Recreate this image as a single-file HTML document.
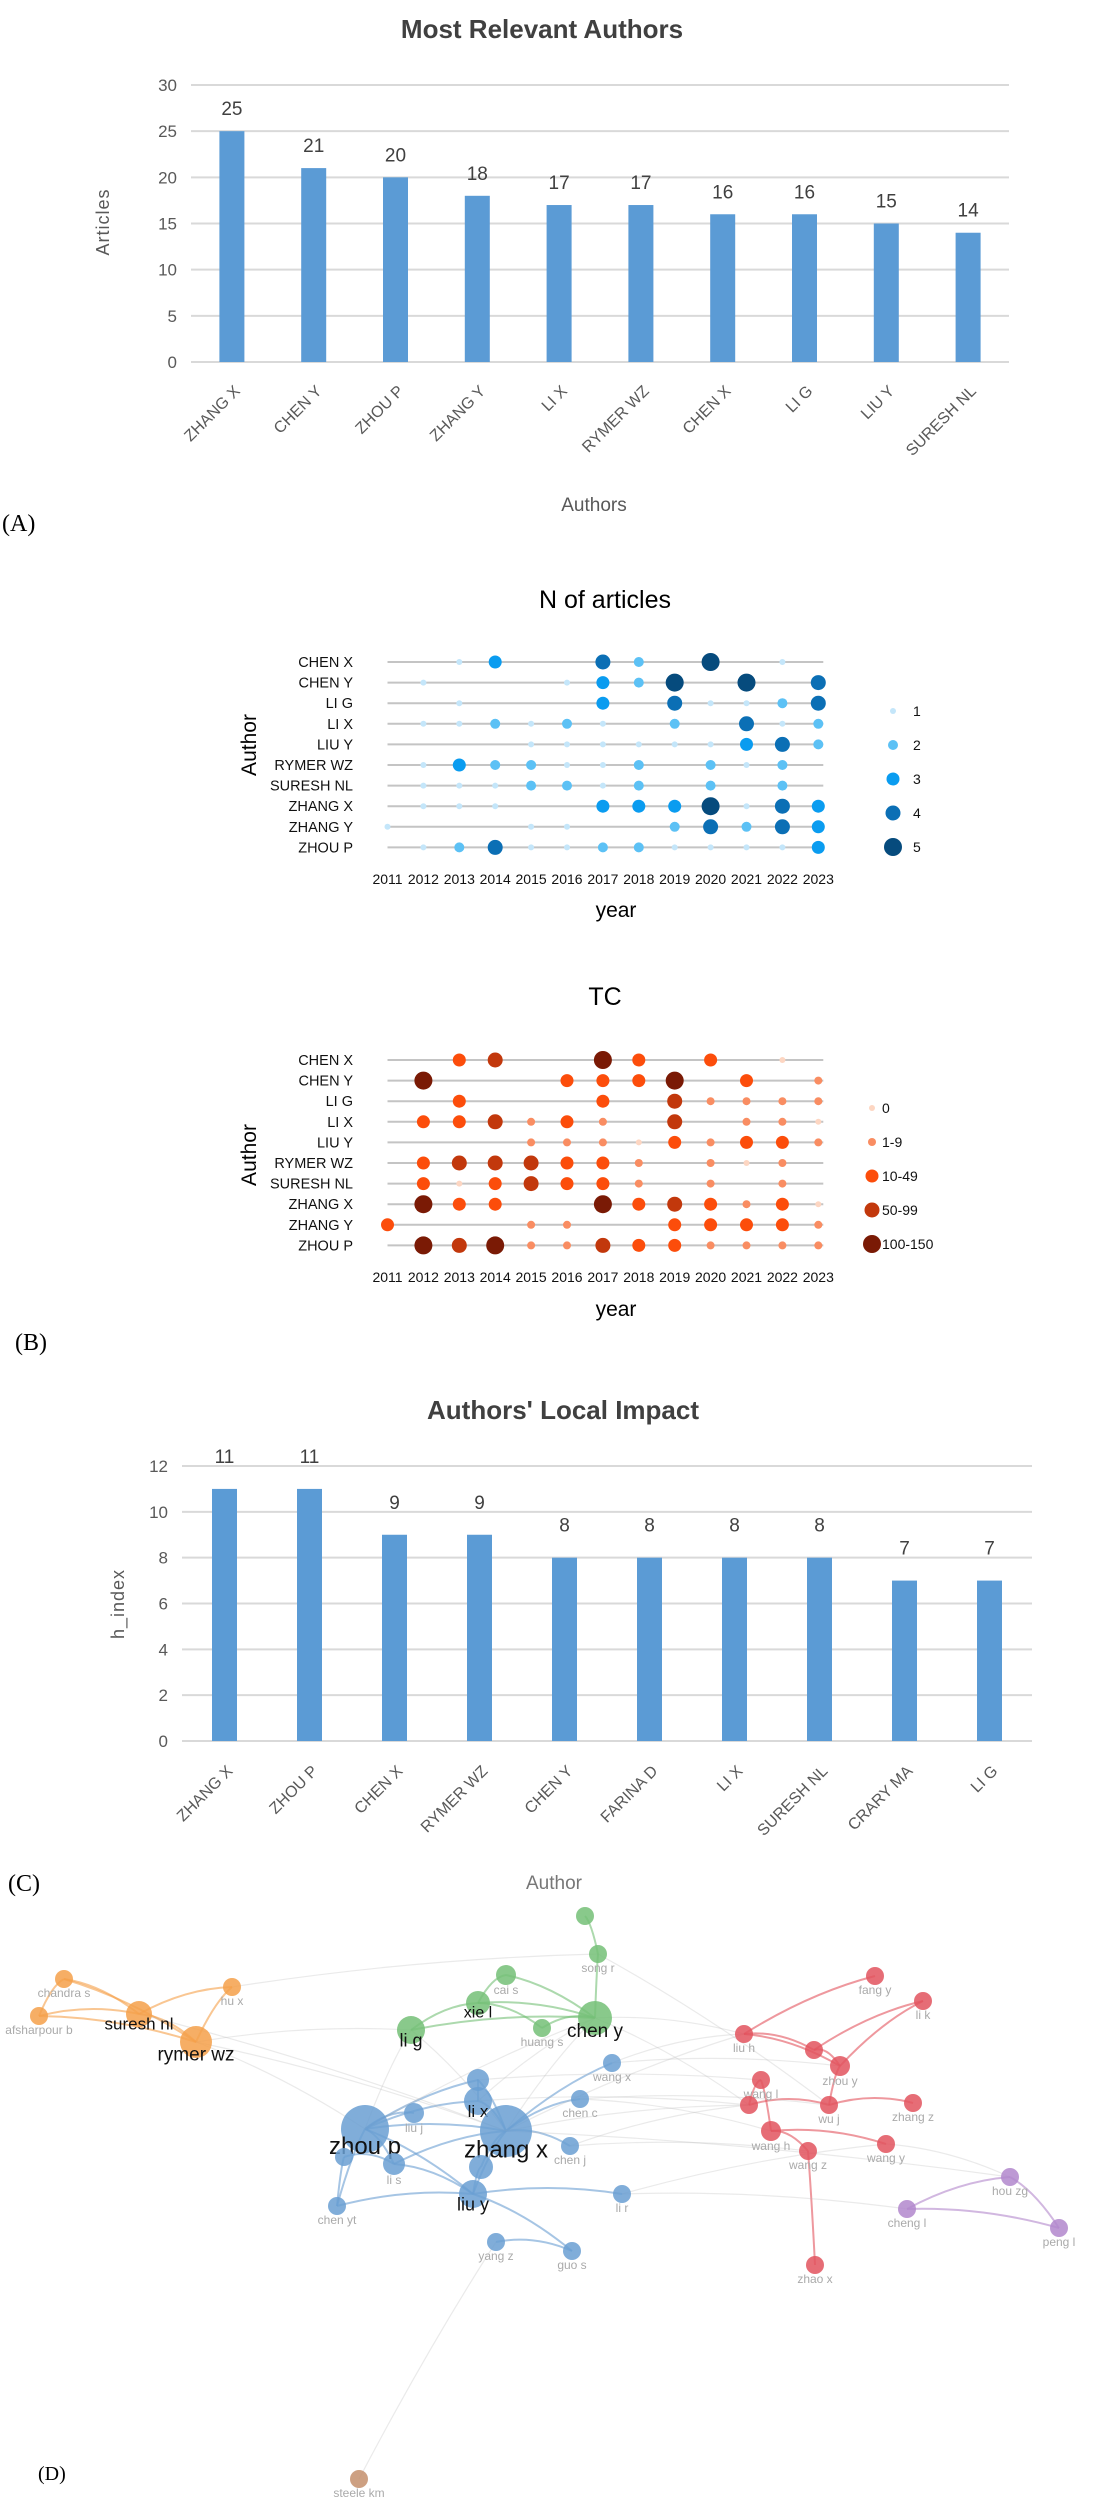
<!DOCTYPE html>
<html><head><meta charset="utf-8">
<style>
html,body{margin:0;padding:0;background:#fff;}
svg{display:block;}
.nar{font-family:"Liberation Sans Narrow","Liberation Sans",sans-serif;}
.sans{font-family:"Liberation Sans",sans-serif;}
.ser{font-family:"Liberation Serif",serif;}
</style></head>
<body>
<svg id="root" width="1118" height="2500" viewBox="0 0 1118 2500" xmlns="http://www.w3.org/2000/svg">
  <g id="chartA">
    <text class="nar" x="542" y="38" font-size="26" font-weight="bold" fill="#404040" text-anchor="middle">Most Relevant Authors</text>
    <text class="sans" transform="translate(109,222) rotate(-90)" font-size="18" fill="#595959" text-anchor="middle" letter-spacing="1">Articles</text>
    <text class="nar" x="594" y="511" font-size="19" fill="#595959" text-anchor="middle">Authors</text>
    <text class="ser" x="2" y="531" font-size="24" fill="#000">(A)</text>
  </g>
  <g id="chartB1">
    <text class="sans" x="605" y="608" font-size="25" fill="#000" text-anchor="middle">N of articles</text>
    <text class="sans" transform="translate(256,745) rotate(-90)" font-size="21" fill="#000" text-anchor="middle">Author</text>
    <text class="sans" x="616" y="917" font-size="21" fill="#000" text-anchor="middle">year</text>
  </g>
  <g id="chartB2">
    <text class="sans" x="605" y="1005" font-size="25" fill="#000" text-anchor="middle">TC</text>
    <text class="sans" transform="translate(256,1155) rotate(-90)" font-size="21" fill="#000" text-anchor="middle">Author</text>
    <text class="sans" x="616" y="1316" font-size="21" fill="#000" text-anchor="middle">year</text>
    <text class="ser" x="15" y="1350" font-size="24" fill="#000">(B)</text>
  </g>
  <g id="chartC">
    <text class="nar" x="563" y="1419" font-size="26" font-weight="bold" fill="#404040" text-anchor="middle">Authors' Local Impact</text>
    <text class="sans" transform="translate(124,1604) rotate(-90)" font-size="18" fill="#595959" text-anchor="middle" letter-spacing="1">h_index</text>
    <text class="ser" x="8" y="1891" font-size="24" fill="#000">(C)</text>
  </g>
  <g id="chartD">
    <text class="nar" x="554" y="1889" font-size="19" fill="#777" text-anchor="middle">Author</text>
    <g id="edges"></g>
    <g id="nodes"></g>
    <text class="ser" x="38" y="2480" font-size="20" fill="#000">(D)</text>
  </g>
</svg>
<script>
const authorsA = ["ZHANG X","CHEN Y","ZHOU P","ZHANG Y","LI X","RYMER WZ","CHEN X","LI G","LIU Y","SURESH NL"];
const articlesA = [25,21,20,18,17,17,16,16,15,14];
const ticksA = [0,5,10,15,20,25,30];
const authorsC = ["ZHANG X","ZHOU P","CHEN X","RYMER WZ","CHEN Y","FARINA D","LI X","SURESH NL","CRARY MA","LI G"];
const hIndexC = [11,11,9,9,8,8,8,8,7,7];
const ticksC = [0,2,4,6,8,10,12];
const authorsB = ["CHEN X","CHEN Y","LI G","LI X","LIU Y","RYMER WZ","SURESH NL","ZHANG X","ZHANG Y","ZHOU P"];
const yearsB = ["2011","2012","2013","2014","2015","2016","2017","2018","2019","2020","2021","2022","2023"];
const nArticles = [
 [-1,-1,1,3,-1,-1,4,2,-1,5,-1,1,-1],
 [-1,1,-1,-1,-1,1,3,2,5,-1,5,-1,4],
 [-1,-1,1,-1,-1,-1,3,-1,4,1,1,2,4],
 [-1,1,1,2,1,2,1,-1,2,-1,4,1,2],
 [-1,-1,-1,-1,1,1,1,1,1,1,3,4,2],
 [-1,1,3,2,2,1,1,2,-1,2,1,2,-1],
 [-1,1,1,1,2,2,1,2,-1,2,-1,2,-1],
 [-1,1,1,1,-1,-1,3,3,3,5,1,4,3],
 [1,-1,-1,-1,1,1,-1,-1,2,4,2,4,3],
 [-1,1,2,4,1,1,2,2,1,1,1,1,3]
];
const nLegend = ["1","2","3","4","5"];
const tcClass = [
 [-1,-1,2,3,-1,-1,4,2,-1,2,-1,0,-1],
 [-1,4,-1,-1,-1,2,2,2,4,-1,2,-1,1],
 [-1,-1,2,-1,-1,-1,2,-1,3,1,1,1,1],
 [-1,2,2,3,1,2,1,-1,3,-1,1,1,0],
 [-1,-1,-1,-1,1,1,1,0,2,1,2,2,1],
 [-1,2,3,3,3,2,2,1,-1,1,0,1,-1],
 [-1,2,0,2,3,2,2,1,-1,1,-1,1,-1],
 [-1,4,2,2,-1,-1,4,2,3,2,1,2,0],
 [2,-1,-1,-1,1,1,-1,-1,2,2,2,2,1],
 [-1,4,3,4,1,1,3,2,2,1,1,1,1]
];
const tcLegend = ["0","1-9","10-49","50-99","100-150"];

const NS="http://www.w3.org/2000/svg";
function mk(tag, attrs, parent){const e=document.createElementNS(NS,tag);for(const k in attrs)e.setAttribute(k,attrs[k]);parent.appendChild(e);return e;}

function barChart(g, cats, vals, ticks, o){
  const y = v => o.y0 - (v - ticks[0])/(ticks[ticks.length-1]-ticks[0])*(o.y0-o.yTop);
  const band = (o.xR-o.xL)/cats.length;
  const x = i => o.xL + band*(i+0.5);
  ticks.forEach(t=>{
    const l=mk("line",{x1:o.xL,x2:o.xR,y1:y(t),y2:y(t),stroke:"#d9d9d9","stroke-width":2},g);
    
    
    const tx=mk("text",{x:o.xL-14,y:y(t)+6,"text-anchor":"end","font-size":17,fill:"#595959",class:"nar"},g);
    tx.textContent=t;
    
    
  });
  cats.forEach((c,i)=>{
    const b=mk("rect",{x:x(i)-12.5,y:y(vals[i]),width:25,height:o.y0-y(vals[i]),fill:"#5b9bd5"},g);
    
    
    const v=mk("text",{x:x(i),y:y(vals[i])-o.lblOff,"text-anchor":"middle","font-size":19,fill:"#404040",class:"nar"},g);
    v.textContent=vals[i];
    
    
    const t=mk("text",{transform:`translate(${x(i)+9},${o.labY}) rotate(-45)`,"text-anchor":"end","font-size":16,fill:"#595959",class:"nar"},g);
    t.textContent=c;
    
    
  });
}
barChart(document.getElementById("chartA"),authorsA,articlesA,ticksA,{xL:191,xR:1009,yTop:85,y0:362,labY:392,lblOff:16});
barChart(document.getElementById("chartC"),authorsC,hIndexC,ticksC,{xL:182,xR:1032,yTop:1466,y0:1741,labY:1772,lblOff:26});

function dotChart(g, vals, colors, radii, legend, o){
  const x = i => o.x0 + i*o.dx;
  const y = r => o.y0 + r*o.dy;
  authorsB.forEach((a,r)=>{
    const l=mk("line",{x1:x(0),x2:x(yearsB.length-1)+5,y1:y(r),y2:y(r),stroke:"#c4c4c4","stroke-width":2},g);
    
    
    const t=mk("text",{x:353,y:y(r)+5,"text-anchor":"end","font-size":14.5,fill:"#111",class:"nar"},g);
    t.textContent=a;
    
    
    vals[r].forEach((v,i)=>{
      if(v<0)return;
      const c=mk("circle",{cx:x(i),cy:y(r),r:radii[v],fill:colors[v]},g);
      
      
    });
  });
  yearsB.forEach((yr,i)=>{
    const t=mk("text",{x:x(i),y:o.yLab,"text-anchor":"middle","font-size":14,fill:"#111",class:"nar"},g);
    t.textContent=yr;
    
    
  });
  legend.forEach((lb,k)=>{
    const c=mk("circle",{cx:o.lgx,cy:o.lgy[k],r:radii[k+o.lgOff],fill:colors[k+o.lgOff]},g);
    
    
    const t=mk("text",{x:o.lgtx,y:o.lgy[k]+5,"font-size":14,fill:"#111",class:"nar"},g);
    t.textContent=lb;
    
    
  });
}
dotChart(document.getElementById("chartB1"),nArticles,
  ["#ffffff","#c4e6fa","#5cc1f5","#0a9cf0","#0b6fb5","#064b7d"],[0,3,5,6.5,7.5,9],nLegend,
  {x0:387.5,dx:35.9,y0:662,dy:20.6,yLab:884,lgx:893,lgy:[711,745,779,813,847],lgtx:913,lgOff:1});
dotChart(document.getElementById("chartB2"),tcClass,
  ["#fdd6c2","#f98d62","#fc4d0b","#c2380c","#7a1a05"],[3,4,6.5,7.5,9],tcLegend,
  {x0:387.5,dx:35.9,y0:1060,dy:20.6,yLab:1282,lgx:872,lgy:[1108,1142,1176,1210,1244],lgtx:882,lgOff:0});

const clusterColors = {o:"#f5a04a",g:"#74c077",b:"#6a9fd2",r:"#e2545e",p:"#b287cc",n:"#c48f6c"};
const nodeNames = ["chandra s","afsharpour b","hu x","suresh nl","rymer wz","g top","song r","cai s","xie l","huang s","chen y","li g","wang x","b1","li x","liu j","chen c","zhou p","zhang x","b2","li s","b3","chen j","liu y","chen yt","li r","yang z","guo s","fang y","li k","liu h","r1","zhou y","wang l","r2","wu j","zhang z","wang h","wang z","wang y","zhao x","hou zg","cheng l","peng l","steele km"];
const nodeX = [64,39,232,139,196,585,598,506,478,542,595,411,612,478,478,414,580,365,506,481,394,344,570,473,337,622,496,572,875,923,744,814,840,761,749,829,913,771,808,886,815,1010,907,1059,359];
const nodeY = [1979,2016,1987,2014,2042,1916,1954,1975,2003,2028,2018,2030,2063,2080,2101,2113,2099,2129,2131,2167,2164,2157,2146,2194,2206,2194,2242,2251,1976,2001,2034,2050,2066,2080,2105,2105,2103,2131,2151,2144,2265,2177,2209,2228,2479];
const nodeR = [9,9,9,13,16,9,9,10,12,9,17,14,9,11,14,10,9,24,26,12,11,9,9,14,9,9,9,9,9,9,9,9,10,9,9,9,9,10,9,9,9,9,9,9,9];
const nodeCluster = "oooooggggggg"+"bbbbbbbbbbbbbbbb"+"rrrrrrrrrrrrr"+"pppn";
const edgeList = [[0,3],[0,4],[1,3],[1,4],[2,3],[2,4],[3,4],[0,1],[5,6],[6,10],[7,8],[7,10],[8,10],[8,11],[9,10],[11,10],[8,9],
 [17,18],[17,14],[17,13],[17,15],[17,20],[17,23],[17,24],[18,14],[18,13],[18,19],[18,20],[18,23],[18,22],[18,16],[14,13],[20,23],[24,23],[24,21],[23,27],[26,27],[18,12],[19,23],[21,20],
 [28,30],[29,32],[29,31],[30,31],[31,32],[32,35],[33,34],[34,35],[35,36],[37,38],[37,39],[38,40],[33,37],[30,32],[41,43],[41,42],[42,43],
 [4,17],[4,18],[4,11],[11,18],[11,17],[10,18],[10,30],[10,34],[18,34],[18,30],[14,34],[13,33],[12,32],[16,37],[22,38],[25,39],[25,42],[2,6],[18,41],[26,44],[6,35],[10,17],[3,18],[14,10],[23,25],[22,34],[39,41],[12,30],[16,35]];

const eg=document.getElementById("edges"), ng=document.getElementById("nodes");
edgeList.forEach(([a,b])=>{
  const same = nodeCluster[a]===nodeCluster[b];
  const col = same ? clusterColors[nodeCluster[a]] : "#b8b8b8";
  const mx=(nodeX[a]+nodeX[b])/2, my=(nodeY[a]+nodeY[b])/2 - 12;
  const p=mk("path",{d:`M${nodeX[a]},${nodeY[a]} Q${mx},${my} ${nodeX[b]},${nodeY[b]}`,fill:"none",stroke:col,"stroke-width":same?2:1.2,"stroke-opacity":same?0.6:0.3},eg);
  
  
});
const bigLabels = {"zhou p":24,"zhang x":24,"chen y":19,"suresh nl":17,"rymer wz":19,"li g":18,"xie l":16,"li x":17,"liu y":18};
nodeNames.forEach((n,i)=>{
  const c=mk("circle",{cx:nodeX[i],cy:nodeY[i],r:nodeR[i],fill:clusterColors[nodeCluster[i]],"fill-opacity":0.85},ng);
  
  
  if(/^(g top|b1|b2|b3|r1|r2)$/.test(n))return;
  const big = bigLabels[n];
  const t=mk("text",{x:nodeX[i],y:nodeY[i]+(big?nodeR[i]*0.55+big*0.5:nodeR[i]+9),"text-anchor":"middle","font-size":big||12,fill:big?"#111":"#aaa",class:"nar"},ng);
  t.textContent=n;
  
  
});
</script>
</body></html>
